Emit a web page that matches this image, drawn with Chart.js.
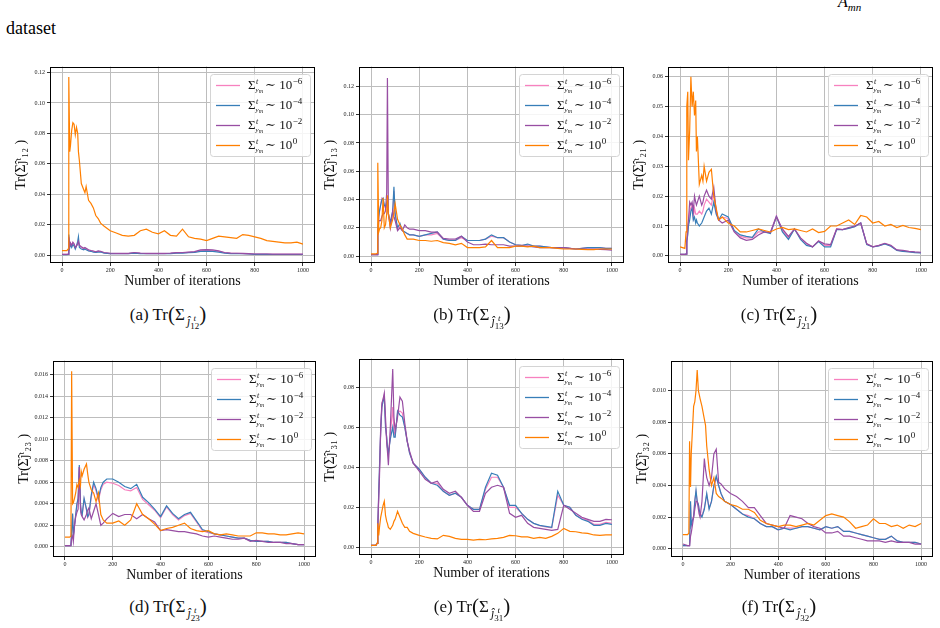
<!DOCTYPE html>
<html lang="en">
<head>
<meta charset="UTF-8">
<title>Tr(Sigma) vs iterations</title>
<script src="https://cdn.jsdelivr.net/npm/chart.js"></script>
<style>
    body {
        margin: 0;
        width: 940px;
        height: 628px;
        background: #fff;
        position: relative;
        overflow: hidden;
        font-family: "Liberation Serif", "DejaVu Serif", serif;
        color: #000;
    }
    .abs { position: absolute; }
    .toptext { font-size: 18px; line-height: 20px; }
    .caption { width: 220px; text-align: center; font-size: 17px; line-height: 22px; white-space: nowrap; color: #111; }
    .caption .par { font-size: 21px; position: relative; top: 1px; }
    .caption .s1 { font-size: 12px; position: relative; top: 5px; margin-left: 2px; font-style: italic; }
    .caption .stack { display: inline-flex; flex-direction: column; vertical-align: middle; font-size: 9px; line-height: 8px; position: relative; top: 0px; }
    .caption .stack .up { font-style: italic; }
    .caption .stack .dn { font-style: normal; }
</style>
</head>
<body>
<div class="abs toptext" style="left:6px; top:18px;">dataset</div>
<div class="abs toptext" style="left:838px; top:-8px; font-size:16px;"><i>A</i><sub style="font-size:11px; font-style:italic;">mn</sub></div>
<div id="figs"></div>

<script>
// ---- data ----
const iterations = [0, 20, 25, 28, 32, 35, 40, 45, 50, 55, 60, 65, 68, 72, 80, 90, 95, 100, 110, 120, 130, 140, 150, 160,
    175, 200, 225, 250, 275, 300,
    325, 350, 375, 400, 425, 450, 475, 500, 525, 550, 575, 600, 625, 650, 675, 700, 725, 750, 775, 800, 825, 850, 875, 900, 925, 950, 975, 1000];
const xTicks = [0, 200, 400, 600, 800, 1000];
const legendPowers = ['\u22126', '\u22124', '\u22122', '0'];
const subIndex = ['12', '13', '21', '23', '31', '32'];
const letters = ['a', 'b', 'c', 'd', 'e', 'f'];

const yTicksA = [0, 0.02, 0.04, 0.06, 0.08, 0.10, 0.12];
const yTicksB = [0, 0.02, 0.04, 0.06, 0.08, 0.10, 0.12];
const yTicksC = [0, 0.01, 0.02, 0.03, 0.04, 0.05, 0.06];
const yTicksD = [0, 0.002, 0.004, 0.006, 0.008, 0.010, 0.012, 0.014, 0.016];
const yTicksE = [0, 0.02, 0.04, 0.06, 0.08];
const yTicksF = [0, 0.002, 0.004, 0.006, 0.008, 0.010];

// (a)
const a_pink = [0.0005,0.0005,0.0005,0.011,0.006,0.008,0.006,0.008,0.007,0.005,0.006,0.008,0.009,0.006,0.005,0.004,0.0045,0.004,0.003,0.003,0.0025,0.002,0.0025,0.0022,
    0.0015,0.001,0.001,0.001,0.001,0.0015,
    0.0012,0.001,0.001,0.001,0.001,0.0012,0.0015,0.0015,0.0018,0.002,0.003,0.0032,0.003,0.0025,0.0015,0.0012,0.0012,0.001,0.0008,0.0006,0.0006,0.0006,0.0005,0.0005,0.0005,0.0005,0.0005,0.0005];
const a_blue = [0.0003,0.0003,0.0004,0.0135,0.005,0.007,0.005,0.007,0.006,0.004,0.006,0.009,0.012,0.005,0.004,0.0035,0.004,0.0035,0.0028,0.0025,0.002,0.0018,0.002,0.002,
    0.0013,0.0009,0.0009,0.0009,0.0009,0.0013,
    0.001,0.0009,0.0009,0.0009,0.0009,0.001,0.0013,0.0013,0.0016,0.0018,0.0025,0.0026,0.0025,0.002,0.0013,0.001,0.001,0.0009,0.0007,0.0005,0.0005,0.0005,0.0004,0.0004,0.0004,0.0004,0.0004,0.0004];
const a_purple = [0.0005,0.0005,0.0006,0.012,0.006,0.008,0.0065,0.0085,0.0075,0.005,0.006,0.0075,0.009,0.0065,0.0055,0.0045,0.005,0.0045,0.0035,0.003,0.0027,0.0022,0.0028,0.0025,
    0.0017,0.0012,0.0011,0.0011,0.0011,0.0017,
    0.0013,0.0011,0.0011,0.0011,0.0011,0.0013,0.0016,0.0017,0.002,0.0023,0.0034,0.0036,0.0034,0.0028,0.0017,0.0013,0.0012,0.0011,0.0009,0.0007,0.0007,0.0007,0.0006,0.0006,0.0006,0.0006,0.0006,0.0006];
const a_orange = [0.003,0.003,0.004,0.117,0.068,0.072,0.082,0.087,0.086,0.079,0.084,0.080,0.068,0.062,0.047,0.043,0.041,0.045,0.036,0.034,0.031,0.026,0.024,0.021,
    0.019,0.016,0.0145,0.013,0.0125,0.013,
    0.016,0.017,0.015,0.014,0.016,0.013,0.0125,0.017,0.012,0.011,0.0105,0.0095,0.011,0.0125,0.012,0.0115,0.011,0.0135,0.013,0.012,0.011,0.0095,0.009,0.0085,0.008,0.008,0.0085,0.0072];

// (b)
const b_pink = [0.001,0.001,0.001,0.017,0.027,0.031,0.037,0.041,0.040,0.035,0.034,0.036,0.033,0.029,0.023,0.030,0.046,0.029,0.019,0.022,0.018,0.017,0.016,0.015,
    0.015,0.014,0.015,0.015,0.016,0.012,
    0.011,0.011,0.013,0.011,0.011,0.011,0.012,0.014,0.013,0.013,0.010,0.008,0.0075,0.008,0.007,0.007,0.0065,0.006,0.006,0.006,0.0055,0.005,0.0055,0.006,0.006,0.006,0.0055,0.0055];
const b_blue = [0.001,0.001,0.001,0.018,0.028,0.032,0.036,0.040,0.041,0.036,0.035,0.038,0.034,0.030,0.024,0.032,0.049,0.030,0.020,0.023,0.018,0.017,0.016,0.015,
    0.015,0.014,0.015,0.016,0.017,0.012,
    0.011,0.011,0.014,0.011,0.011,0.011,0.012,0.015,0.013,0.013,0.010,0.008,0.0075,0.0085,0.007,0.007,0.0065,0.006,0.006,0.006,0.0055,0.005,0.0055,0.006,0.006,0.006,0.0055,0.0055];
const b_purple = [0.001,0.001,0.001,0.015,0.025,0.025,0.025,0.028,0.030,0.030,0.032,0.045,0.126,0.030,0.020,0.032,0.028,0.025,0.018,0.020,0.018,0.022,0.020,0.019,
    0.019,0.018,0.018,0.017,0.017,0.0125,
    0.012,0.012,0.014,0.010,0.008,0.008,0.0085,0.008,0.008,0.008,0.007,0.007,0.007,0.007,0.0065,0.006,0.006,0.006,0.0058,0.006,0.0055,0.005,0.005,0.005,0.005,0.0048,0.0045,0.0042];
const b_orange = [0.0015,0.0015,0.002,0.066,0.017,0.019,0.020,0.025,0.041,0.020,0.022,0.030,0.043,0.030,0.020,0.026,0.030,0.037,0.026,0.022,0.019,0.015,0.012,0.012,
    0.012,0.011,0.011,0.0105,0.011,0.0095,
    0.009,0.008,0.009,0.006,0.006,0.006,0.0065,0.011,0.006,0.006,0.006,0.007,0.007,0.0065,0.007,0.006,0.006,0.006,0.0055,0.005,0.005,0.005,0.0048,0.0045,0.0045,0.005,0.005,0.005];

// (c)
const c_pink = [0.0005,0.0005,0.0006,0.005,0.008,0.011,0.015,0.016,0.017,0.013,0.016,0.014,0.014,0.014,0.015,0.014,0.015,0.017,0.019,0.018,0.017,0.021,0.015,0.012,
    0.013,0.0125,0.0082,0.0065,0.006,0.006,
    0.008,0.008,0.0078,0.0135,0.0085,0.006,0.009,0.006,0.004,0.003,0.005,0.0035,0.0035,0.009,0.0088,0.0093,0.0098,0.011,0.004,0.003,0.0034,0.0041,0.0034,0.0019,0.0016,0.0014,0.0012,0.0011];
const c_blue = [0.0005,0.0005,0.0006,0.005,0.007,0.010,0.012,0.015,0.016,0.012,0.013,0.011,0.012,0.011,0.010,0.011,0.012,0.013,0.015,0.016,0.014,0.018,0.014,0.012,
    0.014,0.013,0.0085,0.007,0.0065,0.0062,
    0.009,0.008,0.0075,0.0132,0.008,0.0055,0.009,0.0055,0.0035,0.003,0.0048,0.003,0.003,0.0088,0.0088,0.0092,0.0098,0.011,0.0038,0.003,0.0033,0.004,0.0032,0.0018,0.0015,0.0013,0.0011,0.001];
const c_purple = [0.0005,0.0005,0.0006,0.004,0.010,0.012,0.018,0.017,0.018,0.015,0.020,0.018,0.017,0.018,0.020,0.017,0.018,0.020,0.022,0.020,0.019,0.023,0.015,0.012,
    0.011,0.012,0.008,0.006,0.0052,0.0055,
    0.007,0.008,0.0078,0.013,0.009,0.0065,0.009,0.006,0.0042,0.003,0.005,0.004,0.0038,0.009,0.0088,0.0095,0.010,0.011,0.004,0.003,0.0035,0.0042,0.0035,0.002,0.0018,0.0015,0.0013,0.0012];
const c_orange = [0.003,0.0025,0.008,0.050,0.055,0.032,0.042,0.060,0.050,0.055,0.047,0.052,0.035,0.040,0.024,0.027,0.025,0.030,0.025,0.028,0.029,0.020,0.016,0.012,
    0.013,0.011,0.010,0.008,0.008,0.0085,
    0.009,0.0085,0.008,0.009,0.0095,0.0088,0.009,0.0085,0.008,0.009,0.0078,0.0082,0.010,0.010,0.011,0.012,0.0105,0.0135,0.013,0.011,0.0115,0.010,0.0105,0.0095,0.0102,0.0095,0.0092,0.0088];

// (d)
const d_pink = [0.0001,0.0001,0.0001,0.0014,0.0030,0.0010,0.0019,0.0029,0.0039,0.0044,0.0074,0.0039,0.0031,0.0029,0.0044,0.0034,0.0027,0.0029,0.0046,0.0058,0.0052,0.0043,0.0053,0.0058,
    0.0060,0.0059,0.0057,0.0053,0.0052,0.0055,
    0.0044,0.0039,0.0034,0.0027,0.0037,0.0030,0.0025,0.0029,0.0031,0.0023,0.0015,0.0013,0.0012,0.0011,0.0010,0.0009,0.0008,0.0008,0.0006,0.0005,0.0005,0.0005,0.0004,0.0004,0.0004,0.0003,0.0002,0.0002];
const d_blue = [0.0001,0.0001,0.0001,0.0015,0.0031,0.0010,0.0020,0.0030,0.0040,0.0045,0.0076,0.0040,0.0032,0.0030,0.0045,0.0035,0.0028,0.0030,0.0048,0.0060,0.0054,0.0045,0.0055,0.0060,
    0.0063,0.0063,0.0060,0.0056,0.0054,0.0058,
    0.0046,0.0041,0.0035,0.0028,0.0038,0.0031,0.0026,0.0030,0.0032,0.0024,0.0016,0.0014,0.0012,0.0011,0.0010,0.0009,0.0008,0.0008,0.0006,0.0005,0.0005,0.0005,0.0004,0.0004,0.0004,0.0003,0.0002,0.0002];
const d_purple = [0.0001,0.0001,0.0001,0.0008,0.0010,0.0005,0.0020,0.0028,0.0032,0.0035,0.0074,0.0035,0.0030,0.0028,0.0025,0.0030,0.0034,0.0036,0.0026,0.0033,0.0040,0.0030,0.0020,0.0022,
    0.0026,0.0031,0.0028,0.0030,0.0030,0.0026,
    0.0030,0.0026,0.0023,0.0015,0.0016,0.0015,0.0014,0.0014,0.0013,0.0012,0.0010,0.0009,0.0010,0.0009,0.0008,0.0007,0.0007,0.0008,0.0005,0.0006,0.0005,0.0004,0.0004,0.0004,0.0003,0.0003,0.0002,0.0002];
const d_orange = [0.0009,0.0009,0.001,0.0163,0.0040,0.0041,0.0045,0.0050,0.0058,0.0055,0.0062,0.0057,0.0070,0.0066,0.0072,0.0077,0.0068,0.0060,0.0053,0.0050,0.0042,0.0050,0.0030,0.0025,
    0.0022,0.0022,0.0024,0.0020,0.0025,0.0040,
    0.0030,0.0026,0.0021,0.0015,0.0017,0.0018,0.0020,0.0022,0.0017,0.0015,0.0014,0.0015,0.0012,0.0011,0.0012,0.0011,0.0010,0.0010,0.0010,0.0013,0.0013,0.0012,0.0012,0.0011,0.0011,0.0012,0.0013,0.0012];

// (e)
const e_pink = [0.001,0.001,0.002,0.010,0.027,0.038,0.057,0.071,0.074,0.076,0.062,0.054,0.050,0.046,0.056,0.070,0.058,0.056,0.067,0.068,0.067,0.060,0.053,0.047,
    0.042,0.039,0.035,0.032,0.032,0.028,
    0.026,0.027,0.025,0.021,0.019,0.019,0.029,0.035,0.035,0.030,0.020,0.020,0.017,0.014,0.012,0.0108,0.0102,0.0098,0.026,0.021,0.020,0.016,0.0145,0.0135,0.0115,0.0115,0.0125,0.012];
const e_blue = [0.001,0.001,0.002,0.010,0.028,0.040,0.058,0.070,0.073,0.075,0.060,0.055,0.050,0.047,0.054,0.060,0.055,0.055,0.068,0.066,0.065,0.060,0.053,0.047,
    0.042,0.039,0.035,0.032,0.031,0.028,
    0.026,0.027,0.025,0.021,0.019,0.019,0.030,0.037,0.036,0.030,0.021,0.021,0.017,0.014,0.012,0.011,0.0105,0.010,0.028,0.021,0.020,0.016,0.014,0.013,0.011,0.011,0.012,0.0115];
const e_purple = [0.001,0.001,0.002,0.010,0.025,0.035,0.060,0.072,0.074,0.077,0.065,0.052,0.048,0.041,0.060,0.089,0.065,0.058,0.065,0.075,0.073,0.062,0.053,0.048,
    0.042,0.038,0.034,0.032,0.033,0.029,
    0.027,0.028,0.025,0.021,0.018,0.018,0.027,0.030,0.031,0.030,0.017,0.015,0.016,0.012,0.010,0.0095,0.009,0.0085,0.009,0.021,0.019,0.017,0.015,0.014,0.013,0.013,0.014,0.0138];
const e_orange = [0.001,0.001,0.002,0.012,0.006,0.010,0.015,0.018,0.021,0.023,0.016,0.013,0.012,0.010,0.009,0.011,0.013,0.014,0.018,0.015,0.012,0.010,0.010,0.008,
    0.007,0.006,0.0052,0.0045,0.0042,0.006,
    0.0055,0.0045,0.004,0.004,0.0036,0.004,0.0038,0.0042,0.0045,0.005,0.006,0.0058,0.0052,0.0052,0.0045,0.005,0.0045,0.0055,0.007,0.0095,0.008,0.0078,0.0072,0.007,0.0062,0.006,0.0062,0.0062];

// (f)
const f_pink = [0.0002,0.0002,0.0002,0.0002,0.0028,0.0015,0.0018,0.0021,0.0031,0.0036,0.0030,0.0028,0.0025,0.0022,0.0021,0.0026,0.0030,0.0034,0.0026,0.0030,0.0039,0.0045,0.0040,0.0035,
    0.0030,0.0028,0.0025,0.0022,0.0021,0.0019,
    0.0016,0.0014,0.0014,0.0012,0.0013,0.0013,0.0013,0.0014,0.0014,0.0013,0.0012,0.0014,0.0013,0.0014,0.0011,0.0011,0.0010,0.0009,0.0008,0.0007,0.0006,0.0006,0.0008,0.0005,0.0004,0.0004,0.0004,0.0003];
const f_blue = [0.0002,0.0002,0.0002,0.0002,0.0030,0.0015,0.0018,0.0020,0.0030,0.0037,0.0030,0.0028,0.0025,0.0022,0.0020,0.0025,0.0030,0.0035,0.0025,0.0030,0.0040,0.0046,0.0040,0.0035,
    0.0030,0.0028,0.0025,0.0022,0.0020,0.0019,
    0.0016,0.0014,0.0014,0.0012,0.0013,0.0012,0.0013,0.0014,0.0014,0.0013,0.0012,0.0014,0.0013,0.0014,0.0011,0.0011,0.0010,0.0009,0.0008,0.0007,0.0006,0.0006,0.0008,0.0005,0.0004,0.0004,0.0004,0.0003];
const f_purple = [0.0003,0.0002,0.0002,0.0002,0.0008,0.0010,0.0015,0.0020,0.0025,0.0030,0.0030,0.0025,0.0022,0.0020,0.0030,0.0057,0.0050,0.0045,0.0040,0.0045,0.0060,0.0063,0.0042,0.0041,
    0.0038,0.0035,0.0033,0.0030,0.0026,0.0026,
    0.0021,0.0016,0.0015,0.0014,0.0013,0.0021,0.0020,0.0019,0.0016,0.0014,0.0013,0.0010,0.0010,0.0011,0.0008,0.0008,0.0007,0.0006,0.0005,0.0005,0.0005,0.0004,0.0005,0.0004,0.0004,0.0004,0.0003,0.0003];
const f_orange = [0.0009,0.0009,0.001,0.0068,0.0039,0.0060,0.0075,0.0090,0.0093,0.0100,0.0113,0.0100,0.0098,0.0095,0.0090,0.0082,0.0078,0.0065,0.0050,0.0040,0.0045,0.0035,0.0033,0.0032,
    0.0030,0.0028,0.0027,0.0025,0.0025,0.0023,
    0.0018,0.0016,0.0015,0.0014,0.0015,0.0015,0.0014,0.0015,0.0016,0.0015,0.0018,0.0021,0.0022,0.0021,0.0020,0.0017,0.0013,0.0014,0.0015,0.0019,0.0016,0.0016,0.0014,0.0015,0.0013,0.0015,0.0014,0.0016];

// ---- layout / style ----
const SERIF = '"Liberation Serif", "DejaVu Serif", serif';
const colors = ['#f781bf', '#377eb8', '#984ea3', '#ff7f00'];
const drawOrder = [3, 2, 1, 0]; // orange on top

// box = plot frame [left, top, width, height] in page pixels
const panels = [
    { box: [50, 65, 265, 198],  yMin: -0.0052,  yMax: 0.1239, yTicks: yTicksA, dec: 2, series: [a_pink, a_blue, a_purple, a_orange] },
    { box: [359, 65, 265, 198], yMin: -0.0049,  yMax: 0.134,  yTicks: yTicksB, dec: 2, series: [b_pink, b_blue, b_purple, b_orange] },
    { box: [668, 65, 265, 198], yMin: -0.0024,  yMax: 0.0634, yTicks: yTicksC, dec: 2, series: [c_pink, c_blue, c_purple, c_orange] },
    { box: [53, 359, 263, 198], yMin: -0.00095, yMax: 0.0173, yTicks: yTicksD, dec: 3, series: [d_pink, d_blue, d_purple, d_orange] },
    { box: [359, 357, 265, 198], yMin: -0.0038, yMax: 0.0942, yTicks: yTicksE, dec: 2, series: [e_pink, e_blue, e_purple, e_orange] },
    { box: [671, 359, 262, 198], yMin: -0.00052, yMax: 0.0119, yTicks: yTicksF, dec: 3, series: [f_pink, f_blue, f_purple, f_orange] }
];
const captionCenters = [168, 472, 779, 168, 472, 779];
const captionTops = [302, 302, 302, 594, 594, 594];

const subDigits = { '0': '\u2080', '1': '\u2081', '2': '\u2082', '3': '\u2083' };
function toSub(s) { return s.split('').map(c => subDigits[c]).join(''); }

// frame + legend drawn over the lines
const frameLegend = {
    id: 'frameLegend',
    afterDatasetsDraw(chart) {
        const { ctx, chartArea: a } = chart;
        ctx.save();
        ctx.strokeStyle = '#000';
        ctx.lineWidth = 1;
        ctx.strokeRect(Math.round(a.left) + 0.5, Math.round(a.top) + 0.5, Math.round(a.right - a.left) - 1, Math.round(a.bottom - a.top) - 1);

        const w = 100, h = 82;
        const x0 = Math.round(a.right - 5 - w), y0 = Math.round(a.top + 7);
        ctx.beginPath();
        ctx.roundRect(x0 + 0.5, y0 + 0.5, w, h, 3);
        ctx.fillStyle = 'rgba(255,255,255,0.85)';
        ctx.fill();
        ctx.strokeStyle = '#d4d4d4';
        ctx.stroke();

        chart.data.datasets.forEach((ds, i) => {
            const cy = y0 + 11 + i * 20;
            ctx.strokeStyle = ds.borderColor;
            ctx.lineWidth = 1.3;
            ctx.beginPath();
            ctx.moveTo(x0 + 6, cy + 0.5);
            ctx.lineTo(x0 + 30, cy + 0.5);
            ctx.stroke();

            let x = x0 + 38;
            ctx.fillStyle = '#111';
            ctx.textBaseline = 'alphabetic';
            ctx.textAlign = 'left';
            ctx.font = '13px ' + SERIF;
            ctx.fillText('\u03A3', x, cy + 4);
            const sw = ctx.measureText('\u03A3').width;
            ctx.font = 'italic 8px ' + SERIF;
            ctx.fillText('t', x + sw + 0.5, cy - 1);
            ctx.font = 'italic 7px ' + SERIF;
            ctx.fillText('y', x + sw, cy + 7);
            const yw = ctx.measureText('y').width;
            ctx.font = 'italic 6px ' + SERIF;
            ctx.fillText('m', x + sw + yw, cy + 8);
            const mw = ctx.measureText('m').width;
            x += sw + yw + mw + 2;
            ctx.font = '13px ' + SERIF;
            ctx.fillText('\u223C 10', x, cy + 4);
            x += ctx.measureText('\u223C 10').width;
            ctx.font = '9px ' + SERIF;
            ctx.fillText(legendPowers[i], x + 0.5, cy - 1);
        });
        ctx.restore();
    }
};

const figs = document.getElementById('figs');

panels.forEach((p, k) => {
    const [bl, bt, bw, bh] = p.box;
    const wrap = document.createElement('div');
    wrap.className = 'abs';
    wrap.style.left = (bl - 50) + 'px';
    wrap.style.top = (bt - 4) + 'px';
    const cv = document.createElement('canvas');
    cv.width = bw + 54;
    cv.height = bh + 34;
    wrap.appendChild(cv);
    figs.appendChild(wrap);

    const datasets = p.series.map((vals, i) => ({
        label: 'Sigma ~ 10^' + legendPowers[i],
        data: iterations.map((it, j) => ({ x: it, y: vals[j] })),
        borderColor: colors[i],
        borderWidth: 1.2,
        pointRadius: 0,
        tension: 0,
        order: drawOrder[i]
    }));

    new Chart(cv, {
        type: 'line',
        data: { datasets },
        options: {
            responsive: false,
            animation: false,
            layout: { padding: { top: 4, right: 4, left: 0, bottom: 0 } },
            plugins: { legend: { display: false }, tooltip: { enabled: false } },
            scales: {
                x: {
                    type: 'linear',
                    min: -50,
                    max: 1050,
                    afterBuildTicks: s => { s.ticks = xTicks.map(v => ({ value: v })); },
                    afterFit: s => { s.height = 30; },
                    ticks: { font: { family: SERIF, size: 6 }, color: '#222', padding: 1, maxRotation: 0, callback: v => String(v) },
                    grid: { color: '#bdbdbd', lineWidth: 1, tickLength: 3, tickColor: '#333' },
                    border: { display: false },
                    title: { display: true, text: 'Number of iterations', font: { family: SERIF, size: 14 }, color: '#111', padding: { top: 0, bottom: 3 } }
                },
                y: {
                    min: p.yMin,
                    max: p.yMax,
                    afterBuildTicks: s => { s.ticks = p.yTicks.map(v => ({ value: v })); },
                    afterFit: s => { s.width = 50; },
                    ticks: { font: { family: SERIF, size: 6 }, color: '#222', padding: 2, callback: v => v.toFixed(p.dec) },
                    grid: { color: '#bdbdbd', lineWidth: 1, tickLength: 3, tickColor: '#333' },
                    border: { display: false },
                    title: { display: true, text: 'Tr(\u03A3\u0135\u1D57' + toSub(subIndex[k]) + ' )', font: { family: SERIF, size: 14 }, color: '#111', padding: { top: 13, bottom: 0 } }
                }
            }
        },
        plugins: [frameLegend]
    });

    const cap = document.createElement('div');
    cap.className = 'abs caption';
    cap.style.left = (captionCenters[k] - 110) + 'px';
    cap.style.top = captionTops[k] + 'px';
    cap.innerHTML = '(' + letters[k] + ') Tr<span class="par">(</span>\u03A3<span class="s1">\u0135<span class="stack"><span class="up">t</span><span class="dn">' + subIndex[k] + '</span></span></span><span class="par">)</span>';
    figs.appendChild(cap);
});
</script>
</body>
</html>
